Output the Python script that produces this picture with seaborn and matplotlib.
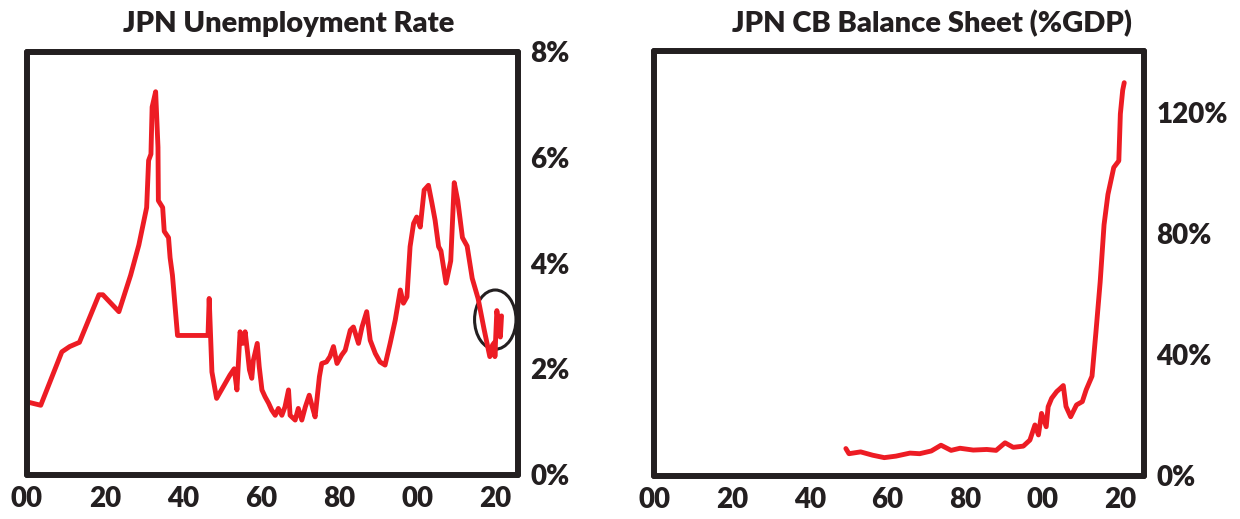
import pandas as pd
import numpy as np
import matplotlib.pyplot as plt
from matplotlib.patches import Ellipse
from matplotlib.ticker import FuncFormatter
import seaborn as sns

# unemployment rate, %
unemp_year = [1900.3, 1903.6, 1909.0, 1911.0, 1913.5, 1918.5, 1919.5, 1923.6, 1926.6, 1928.7,
              1930.7, 1931.2, 1931.8, 1932.1, 1933.0, 1933.6, 1933.7, 1934.8, 1935.2, 1936.3,
              1936.7, 1937.3, 1937.8, 1938.6, 1946.4, 1946.7, 1947.4, 1948.6, 1952.0, 1953.1,
              1953.8, 1954.6, 1955.3, 1955.9, 1956.5, 1957.0, 1957.6, 1958.0, 1959.0, 1959.5,
              1960.2, 1961.0, 1961.9, 1962.7, 1963.6, 1964.4, 1965.3, 1966.1, 1967.0, 1967.4,
              1968.7, 1969.5, 1970.4, 1971.3, 1972.3, 1973.2, 1973.8, 1974.9, 1975.5, 1976.7,
              1977.6, 1978.5, 1979.4, 1980.6, 1981.5, 1982.8, 1983.6, 1984.9, 1985.8, 1987.0,
              1987.9, 1989.2, 1990.4, 1991.7, 1993.0, 1994.3, 1995.6, 1996.4, 1997.3, 1998.1,
              1999.0, 1999.8, 2000.7, 2001.7, 2002.8, 2003.7, 2004.5, 2005.4, 2006.0, 2007.3,
              2008.5, 2009.4, 2010.3, 2011.5, 2012.7, 2014.0, 2015.5, 2017.0, 2018.5, 2019.2,
              2019.7, 2019.8, 2020.3, 2021.2, 2021.5]
unemp_rate = [1.37, 1.31, 2.32, 2.42, 2.50, 3.40, 3.40, 3.08, 3.77, 4.34,
              5.05, 5.94, 6.06, 6.95, 7.24, 6.19, 5.18, 5.05, 4.60, 4.48,
              4.10, 3.77, 3.33, 2.63, 2.63, 3.33, 1.94, 1.44, 1.88, 2.00,
              1.60, 2.70, 2.48, 2.70, 2.32, 1.98, 1.82, 2.16, 2.48, 2.04,
              1.60, 1.47, 1.35, 1.22, 1.12, 1.25, 1.12, 1.28, 1.60, 1.12,
              1.03, 1.25, 1.03, 1.28, 1.50, 1.25, 1.09, 1.85, 2.10, 2.13,
              2.23, 2.42, 2.10, 2.26, 2.35, 2.73, 2.79, 2.48, 2.79, 3.08,
              2.54, 2.29, 2.13, 2.07, 2.48, 2.92, 3.49, 3.24, 3.36, 4.31,
              4.75, 4.87, 4.68, 5.38, 5.47, 5.13, 4.81, 4.31, 4.23, 3.62,
              4.04, 5.52, 5.18, 4.48, 4.32, 3.71, 3.33, 2.76, 2.23, 2.45,
              2.50, 2.23, 3.10, 2.60, 3.00]

# central bank balance sheet, % of GDP
cb_year = [1949.3, 1950.1, 1953.1, 1956.2, 1959.2, 1962.2, 1965.8, 1968.3, 1971.3, 1973.8,
           1976.4, 1978.7, 1982.1, 1985.6, 1988.0, 1990.3, 1992.4, 1995.0, 1996.7, 1998.0,
           1998.9, 1999.7, 2000.9, 2001.4, 2002.3, 2003.6, 2004.3, 2005.3, 2006.0, 2007.2,
           2008.7, 2010.2, 2011.2, 2012.7, 2013.7, 2014.8, 2015.8, 2016.8, 2018.3, 2019.6,
           2020.0, 2020.6, 2021.0]
cb_gdp = [8.9, 7.2, 7.8, 6.7, 5.9, 6.4, 7.4, 7.2, 8.1, 10.0,
          8.3, 9.0, 8.4, 8.6, 8.3, 10.8, 9.3, 9.7, 11.7, 16.7,
          13.4, 20.5, 16.1, 22.7, 25.5, 27.7, 28.5, 29.7, 22.8, 19.4,
          23.3, 24.4, 28.3, 32.8, 47.2, 63.9, 82.8, 92.8, 101.7, 103.9,
          119.4, 127.2, 129.7]

x_ticks = [1900, 1920, 1940, 1960, 1980, 2000, 2020]
unemp_ticks = [0, 2, 4, 6, 8]
cb_ticks = [0, 40, 80, 120]

sns.set_theme(style="white")
plt.rcParams['font.family'] = ['Lato', 'DejaVu Sans']

RED = "#ed1c24"
INK = "#231f20"

unemp = pd.DataFrame({"year": unemp_year, "rate": unemp_rate})
cb = pd.DataFrame({"year": cb_year, "gdp": cb_gdp})

fig = plt.figure(figsize=(12.4, 5.19), dpi=100)
ax1 = fig.add_axes([0.0215, 0.0857, 0.3962, 0.815])
ax2 = fig.add_axes([0.5278, 0.0838, 0.3945, 0.817])


def style_axis(ax, title, title_x, yticks, ylim, xmax):
    ax.set_xlim(1900, xmax)
    ax.set_ylim(*ylim)
    ax.set_xticks(x_ticks)
    ax.set_yticks(yticks)
    ax.xaxis.set_major_formatter(FuncFormatter(lambda v, p: f"{int(v) % 100:02d}"))
    ax.yaxis.set_major_formatter(FuncFormatter(lambda v, p: f"{int(v)}%"))
    ax.yaxis.tick_right()
    ax.tick_params(length=0, labelsize=20, colors=INK)
    ax.tick_params(axis='x', pad=8)
    ax.tick_params(axis='y', pad=9)
    for lab in ax.get_xticklabels() + ax.get_yticklabels():
        lab.set_fontweight("heavy")
    for s in ax.spines.values():
        s.set_visible(True)
        s.set_linewidth(4.3)
        s.set_color(INK)
        s.set_capstyle("round")
    ax.set_xlabel("")
    ax.set_ylabel("")
    ax.set_title(title, x=title_x, fontsize=21, fontweight="heavy", color=INK, pad=14)


sns.lineplot(data=unemp, x="year", y="rate", ax=ax1, color=RED, linewidth=3.5)
style_axis(ax1, "JPN Unemployment Rate", 0.534, unemp_ticks, (0, 8), 2025.7)
ax1.add_patch(Ellipse((2019.9, 2.93), 10.6, 1.12, fill=False, edgecolor=INK, linewidth=2.2))

sns.lineplot(data=cb, x="year", y="gdp", ax=ax2, color=RED, linewidth=3.5)
style_axis(ax2, "JPN CB Balance Sheet (%GDP)", 0.567, cb_ticks, (0, 140), 2026)

fig.savefig("out.png", dpi=100)
